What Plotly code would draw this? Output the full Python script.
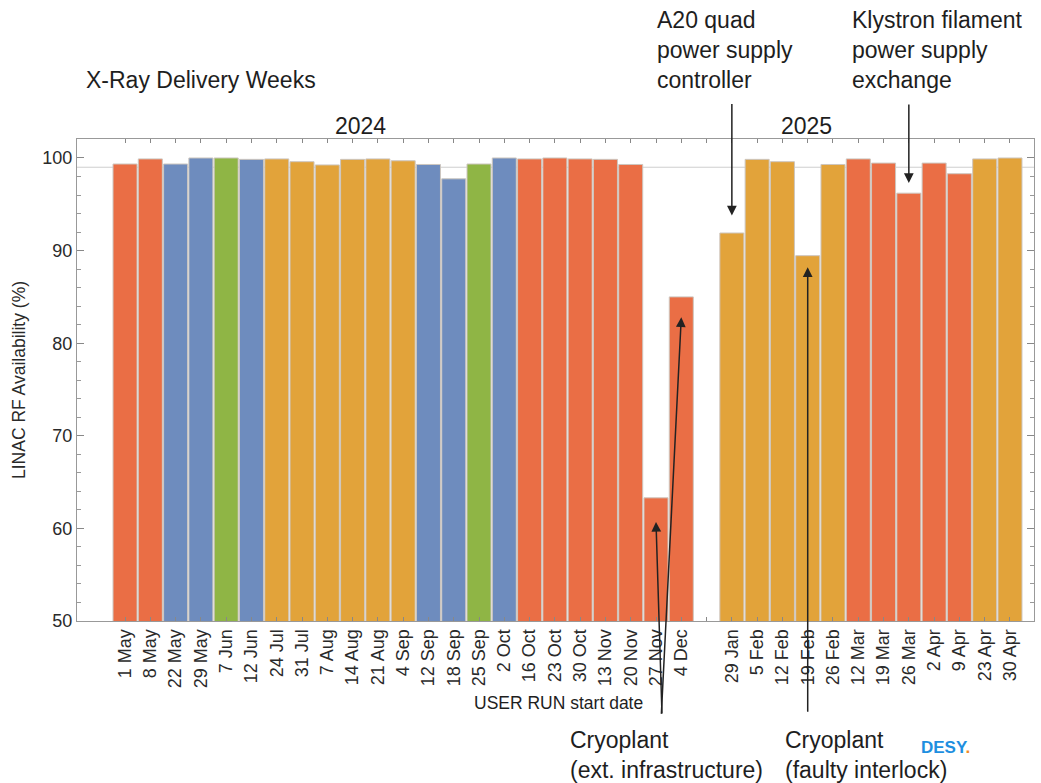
import plotly.graph_objects as go

# ---------------- data ----------------
weeks_2024 = ["1 May", "8 May", "22 May", "29 May", "7 Jun", "12 Jun", "24 Jul", "31 Jul",
              "7 Aug", "14 Aug", "21 Aug", "4 Sep", "12 Sep", "18 Sep", "25 Sep", "2 Oct",
              "16 Oct", "23 Oct", "30 Oct", "13 Nov", "20 Nov", "27 Nov", "4 Dec"]
avail_2024 = [99.35, 99.9, 99.35, 100.0, 100.0, 99.85, 99.9, 99.6,
              99.25, 99.85, 99.9, 99.7, 99.3, 97.75, 99.35, 100.0,
              99.9, 100.0, 99.9, 99.85, 99.3, 63.3, 85.0]
group_2024 = ["A", "A", "B", "B", "C", "B", "D", "D",
              "D", "D", "D", "D", "B", "B", "C", "B",
              "A", "A", "A", "A", "A", "A", "A"]

weeks_2025 = ["29 Jan", "5 Feb", "12 Feb", "19 Feb", "26 Feb", "12 Mar", "19 Mar", "26 Mar",
              "2 Apr", "9 Apr", "23 Apr", "30 Apr"]
avail_2025 = [91.9, 99.85, 99.6, 89.45, 99.3, 99.9, 99.45, 96.2,
              99.45, 98.3, 99.9, 100.0]
group_2025 = ["D", "D", "D", "D", "D", "A", "A", "A",
              "A", "A", "D", "D"]

target_line = 99.0

# one empty slot separates the two years
labels = weeks_2024 + [""] + weeks_2025
values = avail_2024 + [None] + avail_2025
groups = group_2024 + [None] + group_2025

# ---------------- style ----------------
group_colors = {"A": "#EA6E45", "B": "#6E8CBE", "C": "#8FB545", "D": "#E2A33A", None: "rgba(0,0,0,0)"}
FONT = "Liberation Sans, Arial, Helvetica, sans-serif"
TXT = "#1e1e1e"

W, H = 1041, 783
L, R, T, B = 77, 7, 139, 162
PW, PH = W - L - R, H - T - B


def px(xp):
    return (xp - L) / PW


def py(yp):
    return (H - B - yp) / PH


xs = list(range(len(labels)))

fig = go.Figure()
fig.add_trace(go.Bar(
    x=xs, y=values,
    marker=dict(color=[group_colors[g] for g in groups],
                line=dict(color="#cdc6bf", width=1)),
    showlegend=False,
))

fig.add_shape(type="line", xref="paper", yref="y", x0=0, x1=1, y0=target_line, y1=target_line,
              line=dict(color="#cfcfcf", width=1), layer="below")

ann = []


def text(s, x, y, size, xanchor="left", yanchor="middle", color=TXT, align="left"):
    ann.append(dict(text=s, x=px(x), y=py(y), xref="paper", yref="paper", showarrow=False,
                    xanchor=xanchor, yanchor=yanchor, align=align,
                    font=dict(family=FONT, size=size, color=color)))


text("X-Ray Delivery Weeks", 84, 80, 23)
text("2024", 360, 126, 23, xanchor="center")
text("2025", 806, 126, 23, xanchor="center")
text("A20 quad<br>power supply<br>controller", 655, 5, 23, yanchor="top")
text("Klystron filament<br>power supply<br>exchange", 850, 5, 23, yanchor="top")
text("USER RUN start date", 472, 703, 17.5)
text("Cryoplant<br>(ext. infrastructure)", 568, 755, 23)
text("Cryoplant<br>(faulty interlock)", 783, 755, 23)
text("<b>DESY</b><b><span style='color:#F08A24'>.</span></b>", 919, 747, 17, color="#1E8FE0")


def arrow(label, tip_y, ax, ay):
    i = labels.index(label)
    ann.append(dict(text="", x=i, y=tip_y, xref="x", yref="y", ax=ax, ay=ay,
                    showarrow=True, arrowhead=2, arrowsize=1.3, arrowwidth=1.5,
                    arrowcolor="#222222", standoff=0, startstandoff=0))


arrow("29 Jan", 93.8, 0, -113)
arrow("26 Mar", 97.3, 0, -80)
arrow("27 Nov", 60.7, 6, 193)
arrow("4 Dec", 82.8, -20, 398)
arrow("19 Feb", 88.2, 0, 446)

fig.update_layout(
    width=W, height=H,
    margin=dict(l=L, r=R, t=T, b=B, pad=0),
    paper_bgcolor="white", plot_bgcolor="white",
    bargap=0.05,
    annotations=ann,
    font=dict(family=FONT, color=TXT),
)

fig.update_xaxes(
    range=[-1.9, len(labels) - 0.05],
    tickmode="array", tickvals=xs, ticktext=labels, tickangle=-90,
    ticks="inside", ticklen=4, tickcolor="#888888",
    tickfont=dict(family=FONT, size=18, color="#2a2a2a"),
    showline=True, linecolor="#999999", linewidth=1, mirror="ticks",
    showgrid=False, zeroline=False,
)
fig.update_yaxes(
    range=[50, 102.05],
    tickmode="array", tickvals=[50, 60, 70, 80, 90, 100],
    ticks="inside", ticklen=7, tickcolor="#888888",
    minor=dict(dtick=2, ticks="inside", ticklen=4, tickcolor="#999999", showgrid=False),
    tickfont=dict(family=FONT, size=18, color="#2a2a2a"),
    title=dict(text="LINAC RF Availability (%)", font=dict(family=FONT, size=17.5, color="#2a2a2a"),
               standoff=12),
    showline=True, linecolor="#999999", linewidth=1, mirror="ticks",
    showgrid=False, zeroline=False,
)

fig.write_html("out.html", config={"displayModeBar": False},
               post_script="document.body.style.margin='0';document.body.style.overflow='hidden';")
